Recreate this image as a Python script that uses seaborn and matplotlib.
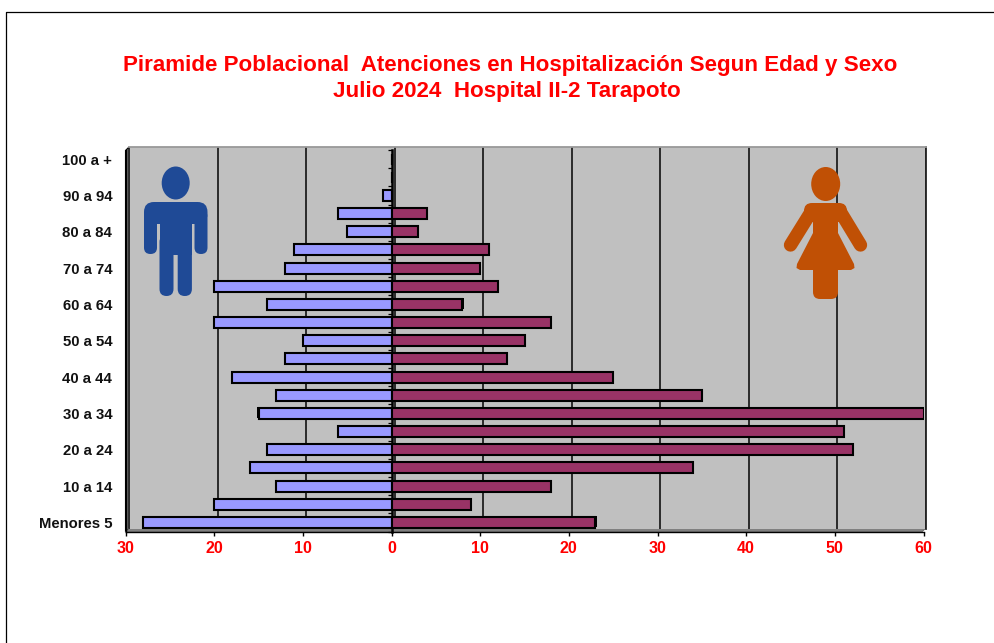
import matplotlib
matplotlib.use("Agg")
import matplotlib.pyplot as plt
import matplotlib.patheffects as pe
from matplotlib.patches import Ellipse, FancyBboxPatch, Polygon, Rectangle
import numpy as np
import pandas as pd
import seaborn as sns

age_groups = ["100 a +", "95 a 99", "90 a 94", "85 a 89", "80 a 84", "75 a 79", "70 a 74",
              "65 a 69", "60 a 64", "55 a 59", "50 a 54", "45 a 49", "40 a 44", "35 a 39",
              "30 a 34", "25 a 29", "20 a 24", "15 a 19", "10 a 14", "5 a 9", "Menores 5"]
hombres = [0, 0, 1, 6, 5, 11, 12, 20, 14, 20, 10, 12, 18, 13, 15, 6, 14, 16, 13, 20, 28]
mujeres = [0, 0, 0, 4, 3, 11, 10, 12, 8, 18, 15, 13, 25, 35, 60, 51, 52, 34, 18, 9, 23]
x_ticks = [-30, -20, -10, 0, 10, 20, 30, 40, 50, 60]
title_lines = ["Piramide Poblacional  Atenciones en Hospitalización Segun Edad y Sexo",
               "Julio 2024  Hospital II-2 Tarapoto"]

W, H = 994, 643
sns.set_theme(style="white")
plt.rcParams["font.family"] = ["Liberation Sans", "DejaVu Sans"]
fig = plt.figure(figsize=(W / 100, H / 100), dpi=100, facecolor="white")


def rect(l, t, r, b):
    return [l / W, 1 - b / H, (r - l) / W, (b - t) / H]


# overlay in pixel coordinates, below everything: border and 3D wall/floor strips
base = fig.add_axes([0, 0, 1, 1], zorder=0)
base.set_xlim(0, W); base.set_ylim(H, 0); base.axis("off")
base.plot([6, 6, W], [H, 12, 12], color="black", lw=0.9)
base.add_patch(Polygon([(125.5, 150.5), (129, 147), (129, 528.5), (125.5, 532)], fc="#707070", ec="black", lw=0.8))
base.add_patch(Polygon([(125.5, 532), (129, 528.5), (925.5, 528.5), (922, 532)], fc="#808080", ec="#606060", lw=0.5))

# back wall with gridlines
back = fig.add_axes(rect(129, 147, 925.5, 528.5), zorder=1, facecolor="#C0C0C0")
back.set_xlim(-30, 60); back.set_ylim(0, 1)
back.set_xticks(x_ticks); back.set_yticks([])
back.tick_params(bottom=False, labelbottom=False)
back.grid(True, axis="x", color="#111111", lw=1.2)
back.set_axisbelow(True)
for side, sp in back.spines.items():
    sp.set_visible(side in ("top", "right"))
    sp.set_color("#999999" if side == "top" else "#222222")
    sp.set_linewidth(1.3)

# icons
ico = fig.add_axes([0, 0, 1, 1], zorder=2)
ico.set_xlim(0, W); ico.set_ylim(H, 0); ico.axis("off"); ico.patch.set_alpha(0)


def rbox(l, t, r, b, rad, color):
    ico.add_patch(FancyBboxPatch((l + rad, t + rad), r - l - 2 * rad, b - t - 2 * rad,
                                 boxstyle=f"round,pad={rad},rounding_size={rad}", fc=color, ec="none"))


blue = "#1F4A96"
ico.add_patch(Ellipse((175.7, 183), 28, 33, fc=blue, ec="none"))
rbox(144, 202, 207.5, 224, 10, blue)
rbox(144, 210, 157, 254, 6.4, blue)
rbox(194.5, 210, 207.5, 254, 6.4, blue)
ico.add_patch(Rectangle((159.5, 205), 32.5, 50, fc=blue, ec="none"))
rbox(159.5, 235, 173.5, 296, 7, blue)
rbox(177.7, 235, 191.9, 296, 7, blue)

orange = "#C05005"
ico.add_patch(Ellipse((825.7, 184), 29, 34, fc=orange, ec="none"))
rbox(804, 203, 847, 222, 8, orange)
for x0, x1 in ((811, 790.5), (840.5, 860.5)):
    ico.plot([x0, x1], [212, 245], color=orange, lw=9.6, solid_capstyle="round")
ico.add_patch(Rectangle((813, 206), 25, 32, fc=orange, ec="none"))
ico.add_patch(Polygon([(813, 233), (838, 233), (854, 264), (854.5, 268), (851, 270), (800, 270),
                       (796.5, 268), (797, 264)], fc=orange, ec="none"))
rbox(813, 262, 838, 299, 7, orange)

# front plane with bars
ax = fig.add_axes(rect(125.5, 150, 923.5, 531.5), zorder=3)
ax.patch.set_alpha(0)
df = pd.DataFrame({"edad": age_groups, "h": -np.array(hombres), "m": mujeres})
sns.barplot(data=df, y="edad", x="h", order=age_groups, color="#9999FF", saturation=1, width=0.6,
            edgecolor="black", linewidth=1.5, ax=ax, zorder=3)
n_h = len(ax.patches)
sns.barplot(data=df, y="edad", x="m", order=age_groups, color="#993366", saturation=1, width=0.6,
            edgecolor="black", linewidth=1.5, ax=ax, zorder=3)
for i, p in enumerate(ax.patches):
    off = (-0.8, 0.8) if i < n_h else (0.8, 0.8)
    p.set_path_effects([pe.SimplePatchShadow(offset=off, shadow_rgbFace="black", alpha=1), pe.Normal()])

ax.set_xlim(-30, 60)
ax.set_ylim(20.5, -0.5)
ax.set_xlabel(""); ax.set_ylabel("")
ax.set_xticks(x_ticks)
ax.set_xticklabels([str(abs(v)) for v in x_ticks], color="#FF0000", fontweight="bold", fontsize=11.5)
ax.set_yticks(range(0, 21, 2))
ax.set_yticklabels(age_groups[::2], color="#111111", fontweight="bold", fontsize=10.7)
ax.tick_params(axis="y", left=False, pad=3.6)
ax.tick_params(axis="x", bottom=True, length=3, width=1, color="black", pad=3.8)
for side, sp in ax.spines.items():
    sp.set_visible(side in ("bottom", "left"))
    sp.set_color("black"); sp.set_linewidth(1)

# zero axis with boundary ticks
sec = ax.secondary_yaxis(1 / 3, functions=(lambda v: v, lambda v: v))
sec.set_yticks(np.arange(-0.5, 21, 1))
sec.tick_params(axis="y", left=True, right=False, labelleft=False, length=3, width=0.9, color="black")
sec.spines["left"].set_color("black"); sec.spines["left"].set_linewidth(1.8)
for s in ("top", "bottom", "right"):
    sec.spines[s].set_visible(False)

fig.text(510.5 / W, 1 - 65 / H, title_lines[0], color="#FF0000", fontweight="bold", fontsize=16.1,
         ha="center", va="center")
fig.text(507 / W, 1 - 92 / H, title_lines[1], color="#FF0000", fontweight="bold", fontsize=16.1,
         ha="center", va="center")

fig.savefig("out.png", dpi=100, facecolor="white")
